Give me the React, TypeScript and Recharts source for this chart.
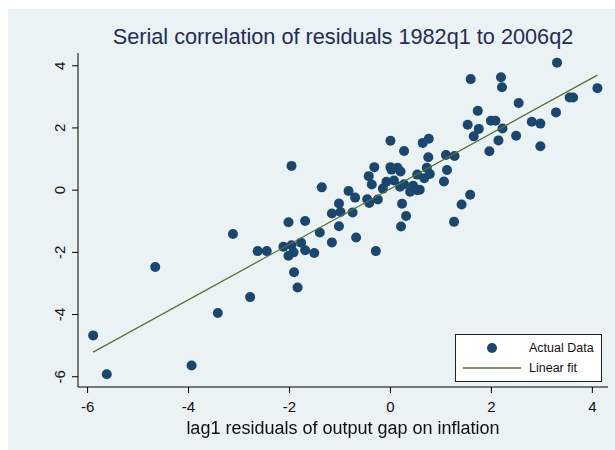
import { ScatterChart, Scatter, XAxis, YAxis } from "recharts";

// lag1 residuals (x) and residuals (y)
const lagResid = [
  -5.89, -5.62, -4.66, -3.94, -3.42, -3.12, -2.78, -2.63, -2.45, -2.12,
  -2.02, -2.02, -1.96, -1.96, -1.92, -1.91, -1.84, -1.77, -1.69, -1.69,
  -1.51, -1.4, -1.36, -1.16, -1.16, -1.02, -1.02, -0.99, -0.83, -0.75,
  -0.7, -0.68, -0.46, -0.43, -0.42, -0.37, -0.32, -0.29, -0.25, -0.15,
  -0.08, 0.0, 0.0, 0.02, 0.07, 0.14, 0.19, 0.2, 0.21, 0.23,
  0.27, 0.27, 0.31, 0.39, 0.45, 0.53, 0.53, 0.58, 0.64, 0.67,
  0.72, 0.75, 0.76, 0.78, 1.06, 1.1, 1.12, 1.26, 1.27, 1.41,
  1.53, 1.58, 1.59, 1.65, 1.73, 1.75, 1.96, 1.99, 2.08, 2.14,
  2.19, 2.21, 2.22, 2.49, 2.54, 2.8, 2.97, 2.97, 3.28, 3.3,
  3.55, 3.62, 4.1,
];
const resid = [
  -4.67, -5.92, -2.47, -5.64, -3.95, -1.41, -3.44, -1.96, -1.96, -1.82,
  -1.03, -2.11, -1.77, 0.78, -2.0, -2.64, -3.13, -1.69, -0.99, -1.93,
  -2.02, -1.36, 0.09, -0.75, -1.68, -0.43, -1.16, -0.7, -0.03, -0.72,
  -0.24, -1.52, -0.29, 0.45, -0.41, 0.18, 0.74, -1.96, -0.3, 0.05,
  0.27, 1.59, 0.74, 0.66, 0.31, 0.72, 0.11, 0.6, -1.17, -0.44,
  1.26, 0.19, -0.83, -0.05, 0.14, 0.5, 0.0, 0.01, 1.52, 0.38,
  0.72, 1.06, 1.65, 0.52, 0.28, 1.13, 0.65, -1.02, 1.1, -0.46,
  2.1, -0.15, 3.57, 1.73, 2.55, 1.97, 1.25, 2.23, 2.23, 1.6,
  3.63, 3.31, 1.98, 1.75, 2.8, 2.2, 2.14, 1.41, 2.5, 4.1,
  2.98, 2.98, 3.28,
];

// fitted line end points
const fitX = [-5.89, 4.1];
const fitY = [-5.21, 3.7];

const xTicks = [-6, -4, -2, 0, 2, 4];
const yTicks = [-6, -4, -2, 0, 2, 4];

const points = lagResid.map((x, i) => ({ x, y: resid[i] }));
const fitData = fitX.map((x, i) => ({ x, y: fitY[i] }));

const FONT = "'Liberation Sans', Arial, Helvetica, sans-serif";
const BG = "#eaf2f3";
const NAVY = "#1a476f";
const GREEN = "#55752f";

const Dot = (props: any) => (
  <circle cx={props.cx} cy={props.cy} r={5} fill={NAVY} />
);

const YTick = ({ y, payload }: any) => (
  <text
    x={57}
    y={y}
    transform={`rotate(-90 57 ${y})`}
    textAnchor="middle"
    fontSize={15}
    fontFamily={FONT}
    fill="#111"
  >
    {payload.value}
  </text>
);

export default function App() {
  return (
    <div
      style={{
        position: "fixed",
        left: 8,
        top: 9,
        width: 607,
        height: 441,
        background: BG,
        fontFamily: FONT,
      }}
    >
      <div
        style={{
          position: "absolute",
          left: 70,
          width: 530,
          top: 17,
          fontSize: 21.7,
          lineHeight: "22px",
          textAlign: "center",
          color: "#1f2d56",
        }}
      >
        Serial correlation of residuals 1982q1 to 2006q2
      </div>

      <ScatterChart
        width={607}
        height={441}
        margin={{ top: 44, right: 7, left: 0, bottom: 0 }}
      >
        <XAxis
          type="number"
          dataKey="x"
          domain={[-6.19, 4.31]}
          ticks={xTicks}
          height={63}
          tickSize={6}
          tickMargin={8}
          stroke="#000"
          tick={{ fontSize: 15, fontFamily: FONT, fill: "#111" }}
          allowDataOverflow
        />
        <YAxis
          type="number"
          dataKey="y"
          domain={[-6.33, 4.41]}
          ticks={yTicks}
          width={70}
          tickSize={6}
          stroke="#000"
          tick={<YTick />}
          allowDataOverflow
        />
        <Scatter data={points} shape={Dot} isAnimationActive={false} />
        <Scatter
          data={fitData}
          line={{ stroke: GREEN, strokeWidth: 1.3 }}
          shape={() => <g />}
          isAnimationActive={false}
        />
      </ScatterChart>

      <div
        style={{
          position: "absolute",
          left: 0,
          width: 670,
          top: 410,
          fontSize: 18,
          lineHeight: "18px",
          textAlign: "center",
          color: "#111",
        }}
      >
        lag1 residuals of output gap on inflation
      </div>

      {/* legend box */}
      <div
        style={{
          position: "absolute",
          left: 447,
          top: 325,
          width: 145,
          height: 46,
          background: "#fff",
          border: "1px solid #222",
          fontSize: 12.5,
          color: "#111",
        }}
      >
        <svg width={70} height={46} style={{ position: "absolute", left: 0, top: 0 }}>
          <circle cx={36} cy={13} r={5} fill={NAVY} />
          <line x1={7} y1={33} x2={65} y2={33} stroke={GREEN} strokeWidth={1.3} />
        </svg>
        <div style={{ position: "absolute", left: 73, top: 6, lineHeight: "14px" }}>Actual Data</div>
        <div style={{ position: "absolute", left: 73, top: 26, lineHeight: "14px" }}>Linear fit</div>
      </div>
    </div>
  );
}
